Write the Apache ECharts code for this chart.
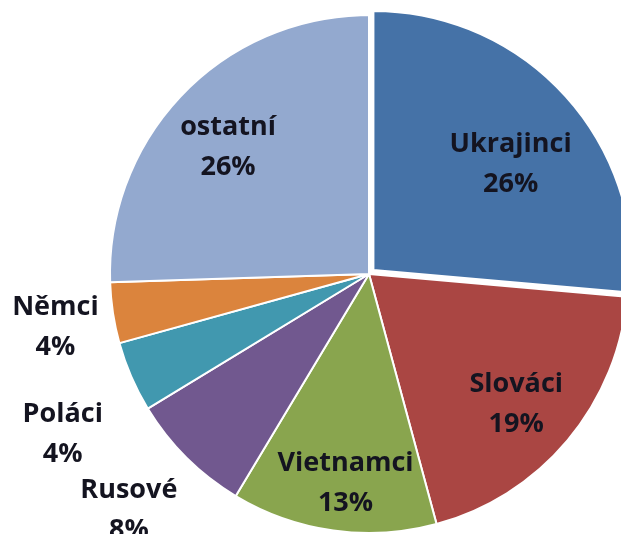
<!DOCTYPE html>
<html>
<head>
<meta charset="utf-8">
<script src="https://cdn.jsdelivr.net/npm/echarts@6/dist/echarts.min.js"></script>
<style>
  html, body { margin: 0; padding: 0; background: #fff; }
  #main { width: 621px; height: 534px; }
</style>
</head>
<body>
<div id="main"></div>
<script>
// podíl cizinců podle státní příslušnosti (%), odečteno z úhlů výsečí
const names = ['Ukrajinci', 'Slováci', 'Vietnamci', 'Rusové', 'Poláci', 'Němci', 'ostatní'];
const shares = [26.4, 19.4, 12.8, 7.7, 4.4, 3.8, 25.5];
const colors = ['#4572A7', '#AA4643', '#89A54E', '#71588F', '#4198AF', '#DB843D', '#93A9CF'];
// malé výseče mají popisek venku
const outside = ['Rusové', 'Poláci', 'Němci'];
// doladění polohy popisků (px)
const labelNudge = {
  'Ukrajinci' : [0, 20],
  'Slováci'   : [0, 7],
  'Vietnamci' : [3, 19],
  'ostatní'   : [-3, 7],
  'Němci'     : [12, 4],
  'Poláci'    : [-4, 30],
  'Rusové'    : [-8, 3],
};

const center = [369, 274];
const R = 259;

const labelStyle = {
  show       : true,
  position   : 'inside',
  formatter  : p => `${p.name}\n${Math.round(p.value)}%`,
  fontFamily : 'Open Sans',
  fontWeight : 'bold',
  fontSize   : 27,
  lineHeight : 40,
  color      : '#141420',
  align      : 'center',
};

function labelData(keep) {
  return names.map((n, i) => ({
    name      : n,
    value     : shares[i],
    itemStyle : { color: 'rgba(0,0,0,0)' },
    label     : { show: keep(n), offset: labelNudge[n] },
  }));
}

function labelSeries(radius, keep) {
  return {
    type              : 'pie',
    silent            : true,
    center            : center,
    radius            : radius,
    startAngle        : 90,
    avoidLabelOverlap : false,
    labelLayout       : { hideOverlap: false },
    label             : labelStyle,
    labelLine         : { show: false },
    emphasis          : { disabled: true },
    data              : labelData(keep),
  };
}

const myChart = echarts.init(document.getElementById('main'));
myChart.setOption({
  animation : false,
  series    : [{
    type           : 'pie',
    center         : center,
    radius         : [0, R],
    startAngle     : 90,
    clockwise      : true,
    selectedMode   : 'single',
    selectedOffset : 6,
    label          : { show: false },
    labelLine      : { show: false },
    itemStyle      : { borderColor: '#fff', borderWidth: 2 },
    emphasis       : { disabled: true },
    data           : names.map((n, i) => ({
      name      : n,
      value     : shares[i],
      selected  : i === 0,
      itemStyle : { color: colors[i] },
    })),
  },
  // popisky uvnitř velkých výsečí
  labelSeries([R * 0.46, R], n => outside.indexOf(n) < 0),
  // popisky vedle malých výsečí, každý zvlášť
  ...outside.map(o => labelSeries([R, R * 1.52], n => n === o)),
  ],
});
</script>
</body>
</html>
